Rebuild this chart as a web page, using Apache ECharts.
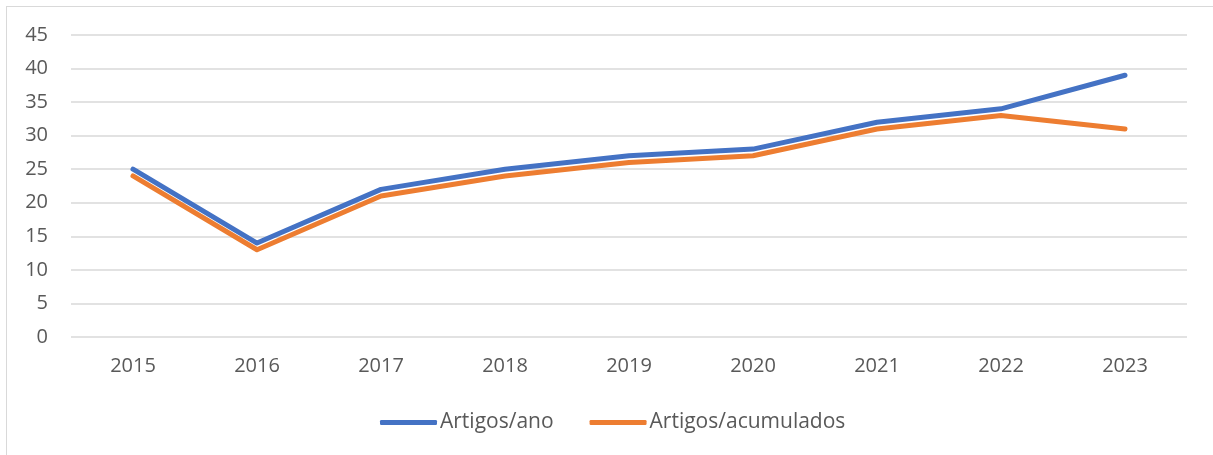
<!DOCTYPE html>
<html>
<head>
<meta charset="utf-8">
<script src="https://cdn.jsdelivr.net/npm/echarts@6/dist/echarts.min.js"></script>
<style>
html,body{margin:0;padding:0;background:#fff;}
#frame{position:absolute;left:6px;top:6px;width:1220px;height:460px;border:1px solid #d9d9d9;box-sizing:border-box;}
#chart{position:absolute;left:0;top:0;width:1213px;height:455px;}
</style>
</head>
<body>
<div id="frame"></div>
<div id="chart"></div>
<script>
const categories = ['2015','2016','2017','2018','2019','2020','2021','2022','2023'];
const artigosAno = [25, 14, 22, 25, 27, 28, 32, 34, 39];
const artigosAcumulados = [24, 13, 21, 24, 26, 27, 31, 33, 31];
const seriesNames = ['Artigos/ano', 'Artigos/acumulados'];

const font = 'Open Sans';
const txt = '#595959';
const chart = echarts.init(document.getElementById('chart'), null, {renderer:'canvas'});
chart.setOption({
  animation: false,
  backgroundColor: 'transparent',
  grid: {left: 71, right: 26, top: 35, bottom: 118, containLabel: false},
  legend: {
    data: seriesNames,
    bottom: 17,
    left: 375,
    icon: 'roundRect',
    itemWidth: 57,
    itemHeight: 5,
    itemGap: 36,
    textStyle: {color: txt, fontFamily: font, fontSize: 21, padding: [0,0,0,-2]}
  },
  xAxis: {
    type: 'category',
    data: categories,
    boundaryGap: true,
    axisLine: {show: false},
    axisTick: {show: false},
    axisLabel: {color: txt, fontFamily: font, fontSize: 20, margin: 19}
  },
  yAxis: {
    type: 'value',
    min: 0, max: 45, interval: 5,
    axisLine: {show: false},
    axisTick: {show: false},
    axisLabel: {color: txt, fontFamily: font, fontSize: 20, margin: 23},
    splitLine: {lineStyle: {color: '#d9d9d9', width: 1.5}}
  },
  series: [
    {name: seriesNames[0], type: 'line', data: artigosAno, showSymbol: false,
     color: '#4472C4', lineStyle: {width: 5, color: '#4472C4', cap: 'round', join: 'round'}},
    {name: seriesNames[1], type: 'line', data: artigosAcumulados, showSymbol: false,
     color: '#ED7D31', lineStyle: {width: 5, color: '#ED7D31', cap: 'round', join: 'round'}}
  ]
});
</script>
</body>
</html>
